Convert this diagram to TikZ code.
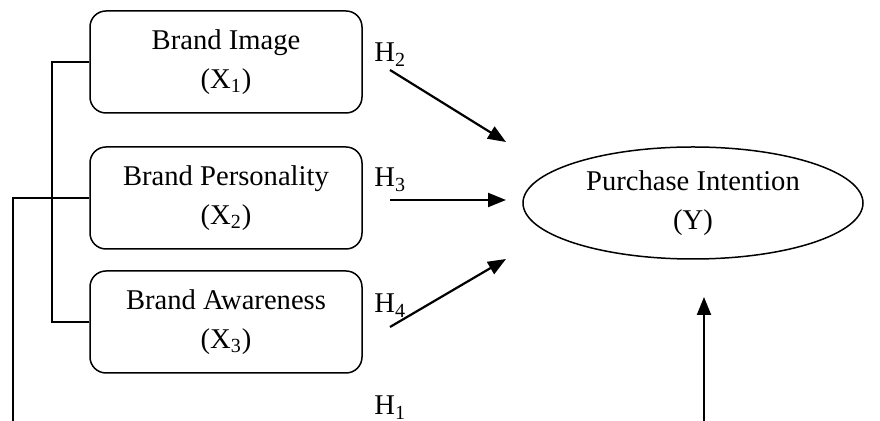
\documentclass[tikz,border=0pt]{standalone}
\usepackage{fontspec}
\setmainfont{Liberation Serif}
\usetikzlibrary{shapes.geometric,arrows.meta}

\begin{document}
\begin{tikzpicture}[x=0.5pt,y=-0.5pt]
\tikzstyle{every node}+=[inner sep=0pt, font=\fontsize{14.3}{19.5}\selectfont]
\tikzstyle{varbox}=[draw, line width=0.75pt, rounded corners=8pt, minimum width=136pt, minimum height=51pt, align=center]
\tikzstyle{link}=[line width=0.6pt]
\tikzstyle{hyp}=[line width=1.1pt, -{Triangle[length=9pt,width=7pt]}]
\tikzstyle{hlabel}=[anchor=base west]
\useasboundingbox (0,0) rectangle (880,421);
% independent variables
\node [varbox] (img) at (226,62) {Brand Image\\(X\textsubscript{1})};
\node [varbox] (per) at (226,198) {Brand Personality\\(X\textsubscript{2})};
\node [varbox] (awr) at (226,322) {Brand Awareness\\(X\textsubscript{3})};
% dependent variable
\node [draw, ellipse, line width=0.75pt, minimum width=170pt, minimum height=56pt, align=center] (pi) at (693,203) {Purchase Intention\\(Y)};
% brackets on the left
\coordinate (brk) at (52,0);
\coordinate (all) at (13,421);
\draw [link] (img.west) -- (img.west -| brk) -- (awr.west -| brk) -- (awr.west);
\draw [link] (per.west) -- (per.west -| all) -- (all);
% hypotheses
\coordinate (h2s) at (390,70);
\coordinate (h2e) at (506,142);
\coordinate (h3s) at (390,200);
\coordinate (h3e) at (506,200);
\coordinate (h4s) at (390,327);
\coordinate (h4e) at (506,259);
\coordinate (h1s) at (704,421);
\coordinate (h1e) at (704,297);
\draw [hyp] (h2s) -- (h2e);
\draw [hyp] (h3s) -- (h3e);
\draw [hyp] (h4s) -- (h4e);
\draw [hyp] (h1s) -- (h1e);
\node [hlabel] (l2) at (374,62) {H\textsubscript{2}};
\node [hlabel] (l3) at (374,187) {H\textsubscript{3}};
\node [hlabel] (l4) at (374,313) {H\textsubscript{4}};
\node [hlabel] (l1) at (374,415) {H\textsubscript{1}};
\end{tikzpicture}
\end{document}
